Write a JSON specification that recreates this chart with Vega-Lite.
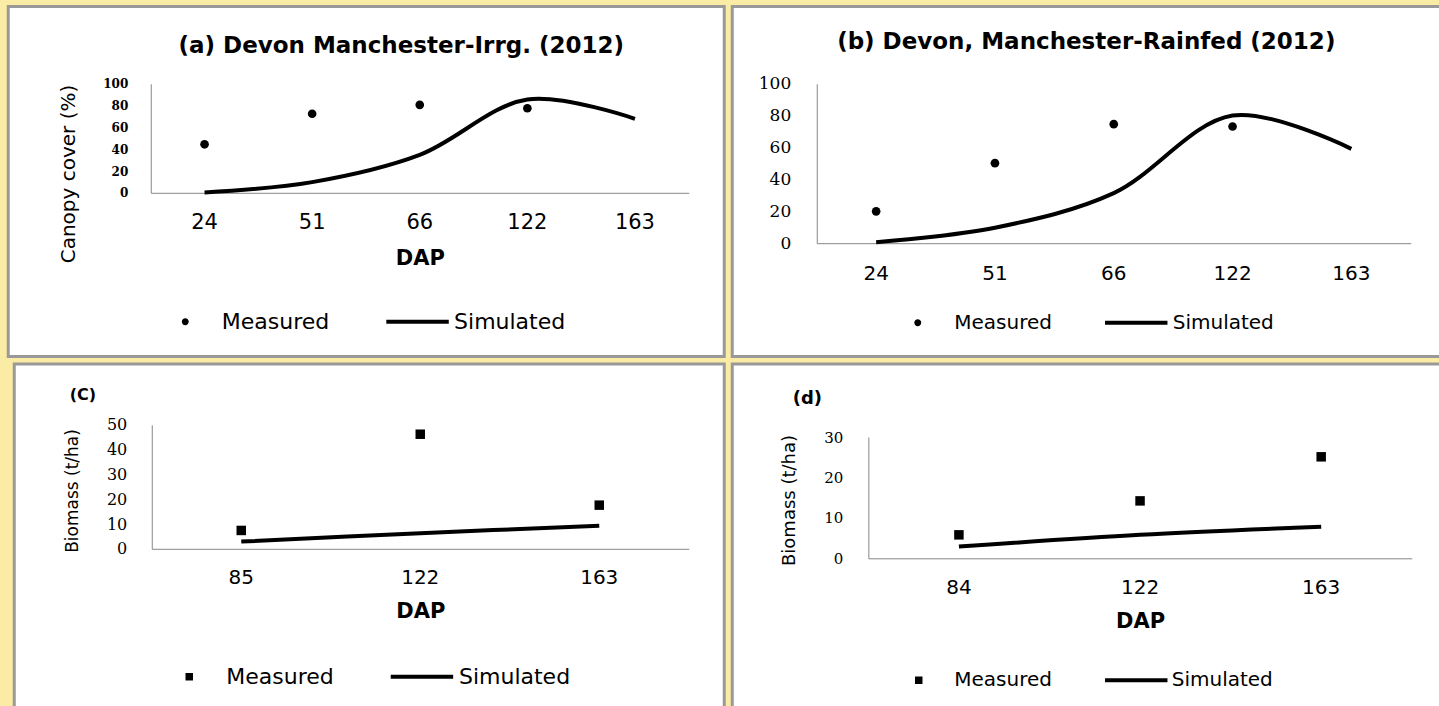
{
  "$schema": "https://vega.github.io/schema/vega-lite/v6.json",
  "background": "#FBECA5",
  "padding": {"left": 6, "top": 4.5, "right": 0, "bottom": 0},
  "config": {
    "axis": {"grid": false, "domainColor": "#878787", "domainWidth": 1, "ticks": false, "tickSize": 0, "labelColor": "#000", "titleColor": "#000", "labelFlush": false, "labelOverlap": false},
    "legend": {"title": null, "orient": "none", "direction": "horizontal", "columns": 2, "symbolSize": 3900, "symbolStrokeWidth": 0, "symbolFillColor": "black", "symbolOpacity": 1, "symbolOffset": 0, "labelFont": "DejaVu Sans", "labelColor": "#000", "labelLimit": 400, "padding": 0, "rowPadding": 0}
  },
  "spacing": 3.5,
  "center": true,
  "resolve": {"scale": {"shape": "independent"}, "legend": {"shape": "independent"}},
  "vconcat": [
    {
      "spacing": 8,
      "bounds": "flush",
      "resolve": {"scale": {"shape": "independent"}, "legend": {"shape": "independent"}},
      "hconcat": [
        {
          "width": 716,
          "height": 350,
          "view": {"fill": "white", "stroke": "#999999", "strokeWidth": 3},
          "title": {"text": "(a) Devon Manchester-Irrg. (2012)", "anchor": "middle", "frame": "group", "offset": 0, "dx": 35, "dy": 69, "baseline": "alphabetic", "font": "DejaVu Sans", "fontSize": 23, "fontWeight": "bold", "color": "#000"},
          "data": {"values": [
            {"DAP": 24, "series": "Measured", "value": 44.5},
            {"DAP": 51, "series": "Measured", "value": 72.5},
            {"DAP": 66, "series": "Measured", "value": 80.7},
            {"DAP": 122, "series": "Measured", "value": 77.6},
            {"DAP": 24, "series": "Simulated", "value": 0.3},
            {"DAP": 51, "series": "Simulated", "value": 9.8},
            {"DAP": 66, "series": "Simulated", "value": 34.8},
            {"DAP": 122, "series": "Simulated", "value": 85.6},
            {"DAP": 163, "series": "Simulated", "value": 67.9}
          ]},
          "encoding": {
            "x": {"field": "DAP", "type": "ordinal", "scale": {"type": "band", "range": [142.5, 680.5], "paddingInner": 0, "paddingOuter": 0},
              "axis": {"orient": "bottom", "offset": -163.7, "labelAngle": 0, "labelPadding": 30, "labelBaseline": "middle", "labelFont": "DejaVu Sans", "labelFontSize": 21, "title": "DAP", "titleFont": "DejaVu Sans", "titleFontSize": 21, "titleFontWeight": "bold", "titleY": 66, "titleBaseline": "middle"}},
            "y": {"field": "value", "type": "quantitative", "scale": {"domain": [0, 100], "range": [186.3, 77.3], "nice": false},
              "axis": {"orient": "left", "offset": -142.5, "values": [0, 20, 40, 60, 80, 100], "labelPadding": 23, "labelBaseline": "middle", "labelFont": "DejaVu Serif", "labelFontSize": 12, "labelFontWeight": "bold", "title": "Canopy cover (%)", "titleX": -82, "titleY": 167, "titleAngle": 270, "titleAlign": "center", "titleBaseline": "middle", "titleFont": "DejaVu Sans", "titleFontSize": 20, "titleFontWeight": "normal"}}
          },
          "layer": [
            {"transform": [{"filter": "datum.series === 'Simulated'"}], "mark": {"type": "line", "interpolate": "catmull-rom", "color": "black", "strokeWidth": 4}},
            {"transform": [{"filter": "datum.series === 'Measured'"}], "mark": {"type": "point", "shape": "circle", "filled": true, "color": "black", "size": 75, "opacity": 1}},
            {"mark": {"type": "point", "filled": true, "color": "black", "opacity": 0},
             "encoding": {"shape": {"field": "series", "type": "nominal",
               "scale": {"domain": ["Measured", "Simulated"], "range": ["M-0.11,0A0.11,0.11,0,1,0,0.11,0A0.11,0.11,0,1,0,-0.11,0Z", "M-1,-0.064H1V0.064H-1Z"]},
               "legend": {"legendX": 145.5, "legendY": 283.5, "columnPadding": 56.3, "labelOffset": 5, "labelFontSize": 22}}}}
          ]
        },
        {
          "width": 718,
          "height": 350,
          "view": {"fill": "white", "stroke": "#999999", "strokeWidth": 3},
          "title": {"text": "(b) Devon, Manchester-Rainfed (2012)", "anchor": "middle", "frame": "group", "offset": 0, "dx": -5, "dy": 65, "baseline": "alphabetic", "font": "DejaVu Sans", "fontSize": 23, "fontWeight": "bold", "color": "#000"},
          "data": {"values": [
            {"DAP": 24, "series": "Measured", "value": 20},
            {"DAP": 51, "series": "Measured", "value": 50.2},
            {"DAP": 66, "series": "Measured", "value": 74.7},
            {"DAP": 122, "series": "Measured", "value": 73.2},
            {"DAP": 24, "series": "Simulated", "value": 0.6},
            {"DAP": 51, "series": "Simulated", "value": 9.7},
            {"DAP": 66, "series": "Simulated", "value": 31.4},
            {"DAP": 122, "series": "Simulated", "value": 80.1},
            {"DAP": 163, "series": "Simulated", "value": 59.2}
          ]},
          "encoding": {
            "x": {"field": "DAP", "type": "ordinal", "scale": {"type": "band", "range": [84.5, 678.5], "paddingInner": 0, "paddingOuter": 0},
              "axis": {"orient": "bottom", "offset": -113.3, "labelAngle": 0, "labelPadding": 30.3, "labelBaseline": "middle", "labelFont": "DejaVu Sans", "labelFontSize": 20, "title": null}},
            "y": {"field": "value", "type": "quantitative", "scale": {"domain": [0, 100], "range": [236.7, 77.3], "nice": false},
              "axis": {"orient": "left", "offset": -84.5, "values": [0, 20, 40, 60, 80, 100], "labelPadding": 26, "labelBaseline": "middle", "labelFont": "DejaVu Serif", "labelFontSize": 17, "title": null}}
          },
          "layer": [
            {"transform": [{"filter": "datum.series === 'Simulated'"}], "mark": {"type": "line", "interpolate": "catmull-rom", "color": "black", "strokeWidth": 4}},
            {"transform": [{"filter": "datum.series === 'Measured'"}], "mark": {"type": "point", "shape": "circle", "filled": true, "color": "black", "size": 75, "opacity": 1}},
            {"mark": {"type": "point", "filled": true, "color": "black", "opacity": 0},
             "encoding": {"shape": {"field": "series", "type": "nominal",
               "scale": {"domain": ["Measured", "Simulated"], "range": ["M-0.11,0A0.11,0.11,0,1,0,0.11,0A0.11,0.11,0,1,0,-0.11,0Z", "M-1,-0.064H1V0.064H-1Z"]},
               "legend": {"legendX": 154, "legendY": 284.5, "columnPadding": 52.5, "labelOffset": 5, "labelFontSize": 20}}}}
          ]
        }
      ]
    },
    {
      "spacing": 8,
      "bounds": "flush",
      "resolve": {"scale": {"shape": "independent"}, "legend": {"shape": "independent"}},
      "hconcat": [
        {
          "width": 710,
          "height": 346,
          "view": {"fill": "white", "stroke": "#999999", "strokeWidth": 3},
          "title": {"text": "(C)", "anchor": "start", "frame": "group", "offset": 0, "dx": 55.5, "dy": 51.5, "baseline": "alphabetic", "font": "DejaVu Sans", "fontSize": 16, "fontWeight": "bold", "color": "#000"},
          "data": {"values": [
            {"DAP": 85, "series": "Measured", "value": 7.4},
            {"DAP": 122, "series": "Measured", "value": 46.2},
            {"DAP": 163, "series": "Measured", "value": 17.6},
            {"DAP": 85, "series": "Simulated", "value": 2.9},
            {"DAP": 122, "series": "Simulated", "value": 6.3},
            {"DAP": 163, "series": "Simulated", "value": 9.3}
          ]},
          "encoding": {
            "x": {"field": "DAP", "type": "ordinal", "scale": {"type": "band", "range": [137.5, 674.5], "paddingInner": 0, "paddingOuter": 0},
              "axis": {"orient": "bottom", "offset": -161.2, "labelAngle": 0, "labelPadding": 28.7, "labelBaseline": "middle", "labelFont": "DejaVu Sans", "labelFontSize": 20, "title": "DAP", "titleFont": "DejaVu Sans", "titleFontSize": 21, "titleFontWeight": "bold", "titleY": 62.7, "titleBaseline": "middle"}},
            "y": {"field": "value", "type": "quantitative", "scale": {"domain": [0, 50], "range": [184.8, 60.8], "nice": false},
              "axis": {"orient": "left", "offset": -137.5, "values": [0, 10, 20, 30, 40, 50], "labelPadding": 25, "labelBaseline": "middle", "labelFont": "DejaVu Serif", "labelFontSize": 16, "title": "Biomass (t/ha)", "titleX": -79, "titleY": 126.5, "titleAngle": 270, "titleAlign": "center", "titleBaseline": "middle", "titleFont": "DejaVu Sans", "titleFontSize": 17, "titleFontWeight": "normal"}}
          },
          "layer": [
            {"transform": [{"filter": "datum.series === 'Simulated'"}], "mark": {"type": "line", "interpolate": "catmull-rom", "color": "black", "strokeWidth": 4}},
            {"transform": [{"filter": "datum.series === 'Measured'"}], "mark": {"type": "point", "shape": "square", "filled": true, "color": "black", "size": 90, "opacity": 1}},
            {"mark": {"type": "point", "filled": true, "color": "black", "opacity": 0},
             "encoding": {"shape": {"field": "series", "type": "nominal",
               "scale": {"domain": ["Measured", "Simulated"], "range": ["M-0.12,-0.12H0.12V0.12H-0.12Z", "M-1,-0.064H1V0.064H-1Z"]},
               "legend": {"legendX": 143.5, "legendY": 281, "columnPadding": 56.7, "labelOffset": 5.5, "labelFontSize": 22}}}}
          ]
        },
        {
          "width": 712,
          "height": 346,
          "view": {"fill": "white", "stroke": "#999999", "strokeWidth": 3},
          "title": {"text": "(d)", "anchor": "start", "frame": "group", "offset": 0, "dx": 60.5, "dy": 58, "baseline": "alphabetic", "font": "DejaVu Sans", "fontSize": 18, "fontWeight": "bold", "color": "#000"},
          "data": {"values": [
            {"DAP": 84, "series": "Measured", "value": 5.8},
            {"DAP": 122, "series": "Measured", "value": 14.2},
            {"DAP": 163, "series": "Measured", "value": 25.1},
            {"DAP": 84, "series": "Simulated", "value": 2.9},
            {"DAP": 122, "series": "Simulated", "value": 5.8},
            {"DAP": 163, "series": "Simulated", "value": 7.8}
          ]},
          "encoding": {
            "x": {"field": "DAP", "type": "ordinal", "scale": {"type": "band", "range": [136.1, 679.5], "paddingInner": 0, "paddingOuter": 0},
              "axis": {"orient": "bottom", "offset": -151.7, "labelAngle": 0, "labelPadding": 28.7, "labelBaseline": "middle", "labelFont": "DejaVu Sans", "labelFontSize": 20, "title": "DAP", "titleFont": "DejaVu Sans", "titleFontSize": 21, "titleFontWeight": "bold", "titleY": 62.7, "titleBaseline": "middle"}},
            "y": {"field": "value", "type": "quantitative", "scale": {"domain": [0, 30], "range": [194.3, 73], "nice": false},
              "axis": {"orient": "left", "offset": -136.1, "values": [0, 10, 20, 30], "labelPadding": 25.6, "labelBaseline": "middle", "labelFont": "DejaVu Serif", "labelFontSize": 15, "title": "Biomass (t/ha)", "titleX": -78.6, "titleY": 136, "titleAngle": 270, "titleAlign": "center", "titleBaseline": "middle", "titleFont": "DejaVu Sans", "titleFontSize": 18, "titleFontWeight": "normal"}}
          },
          "layer": [
            {"transform": [{"filter": "datum.series === 'Simulated'"}], "mark": {"type": "line", "interpolate": "catmull-rom", "color": "black", "strokeWidth": 4}},
            {"transform": [{"filter": "datum.series === 'Measured'"}], "mark": {"type": "point", "shape": "square", "filled": true, "color": "black", "size": 90, "opacity": 1}},
            {"mark": {"type": "point", "filled": true, "color": "black", "opacity": 0},
             "encoding": {"shape": {"field": "series", "type": "nominal",
               "scale": {"domain": ["Measured", "Simulated"], "range": ["M-0.12,-0.12H0.12V0.12H-0.12Z", "M-1,-0.064H1V0.064H-1Z"]},
               "legend": {"legendX": 155, "legendY": 284.5, "columnPadding": 52.5, "labelOffset": 4, "labelFontSize": 20}}}}
          ]
        }
      ]
    }
  ]
}
